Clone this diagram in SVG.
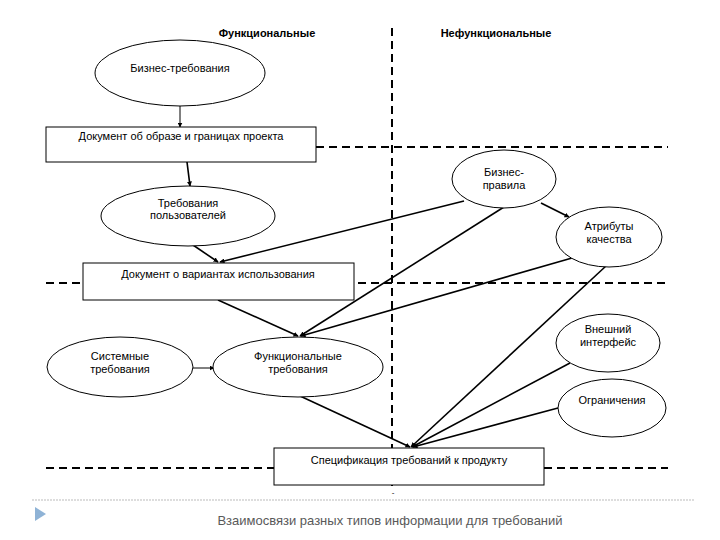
<svg xmlns="http://www.w3.org/2000/svg" width="720" height="540" viewBox="0 0 720 540">
<style>
text{font-family:"Liberation Sans",Arial,sans-serif;font-size:11px;fill:#000;text-anchor:middle}
.hd{font-weight:bold}
.node{fill:#fff;stroke:#000;stroke-width:1}
.dash{stroke:#000;stroke-width:2;stroke-dasharray:8,5;fill:none}
.c{stroke:#000;stroke-width:1.6;fill:none;marker-end:url(#ah)}
.thin{stroke:#000;stroke-width:1;fill:none;marker-end:url(#ah)}
.cap{font-size:13px;fill:#595959}
</style>
<defs>
<marker id="ah" viewBox="0 0 10 10" refX="9" refY="5" markerWidth="5" markerHeight="5" orient="auto" markerUnits="userSpaceOnUse"><path d="M0,0 L10,5 L0,10 z" fill="#000"/></marker>
</defs>
<rect width="720" height="540" fill="#fff"/>
<g id="grid">
<line class="dash" x1="392" y1="28" x2="392" y2="486"/>
<line class="dash" x1="316" y1="147" x2="668" y2="147"/>
<line class="dash" x1="46" y1="283" x2="668" y2="283"/>
<line class="dash" x1="46" y1="468" x2="274" y2="468"/>
<line class="dash" x1="544" y1="468" x2="668" y2="468"/>
<text x="267" y="37" class="hd">Функциональные</text>
<text x="496" y="37" class="hd">Нефункциональные</text>
</g>
<g id="connectors">
<line class="thin" x1="180" y1="106" x2="180" y2="127"/>
<line class="c" x1="187" y1="162" x2="190" y2="186"/>
<line class="c" x1="190" y1="243" x2="218" y2="262"/>
<line class="c" x1="464" y1="201" x2="220" y2="262"/>
<line class="c" x1="541" y1="203" x2="569" y2="217"/>
<line class="c" x1="218" y1="300" x2="298" y2="336"/>
<line class="c" x1="504" y1="207" x2="300" y2="336"/>
<line class="c" x1="572" y1="258" x2="301" y2="336"/>
<line class="thin" x1="192" y1="368" x2="214" y2="368"/>
<line class="c" x1="300" y1="396" x2="410" y2="447"/>
<line class="c" x1="606" y1="266" x2="411" y2="447"/>
<line class="c" x1="570" y1="363" x2="412" y2="447"/>
<line class="c" x1="558" y1="408" x2="413" y2="447"/>
</g>
<g id="n-business"><ellipse class="node" cx="180" cy="73" rx="85" ry="33"/><text x="180" y="72">Бизнес-требования</text></g>
<g id="n-vision"><rect class="node" x="46" y="127" width="270" height="35"/><text x="181" y="140">Документ об образе и границах проекта</text></g>
<g id="n-user"><ellipse class="node" cx="188" cy="216" rx="87" ry="30"/><text x="188" y="207">Требования</text><text x="188" y="219">пользователей</text></g>
<g id="n-rules"><ellipse class="node" cx="504" cy="179" rx="52" ry="29"/><text x="504" y="176">Бизнес-</text><text x="504" y="189">правила</text></g>
<g id="n-quality"><ellipse class="node" cx="609" cy="237" rx="53" ry="30"/><text x="609" y="230">Атрибуты</text><text x="609" y="243">качества</text></g>
<g id="n-usecase"><rect class="node" x="83" y="263" width="271" height="37"/><text x="218" y="278">Документ о вариантах использования</text></g>
<g id="n-ext"><ellipse class="node" cx="608" cy="343" rx="52" ry="29"/><text x="608" y="333">Внешний</text><text x="608" y="346">интерфейс</text></g>
<g id="n-sys"><ellipse class="node" cx="120" cy="367" rx="73" ry="30"/><text x="120" y="360">Системные</text><text x="120" y="373">требования</text></g>
<g id="n-func"><ellipse class="node" cx="298" cy="367" rx="85" ry="30"/><text x="298" y="360">Функциональные</text><text x="298" y="373">требования</text></g>
<g id="n-constr"><ellipse class="node" cx="612" cy="408" rx="54" ry="29"/><text x="612" y="404">Ограничения</text></g>
<g id="n-spec"><rect class="node" x="274" y="448" width="270" height="37"/><text x="409" y="464">Спецификация требований к продукту</text></g>
<text x="393" y="495" style="font-size:8px">-</text>
<line x1="32" y1="500" x2="694" y2="500" stroke="#bbb" stroke-width="1" stroke-dasharray="2,1"/>
<polygon points="35,507 46,514 35,521" fill="#8fb3d6"/>
<text x="390" y="525" class="cap">Взаимосвязи разных типов информации для требований</text>
</svg>
